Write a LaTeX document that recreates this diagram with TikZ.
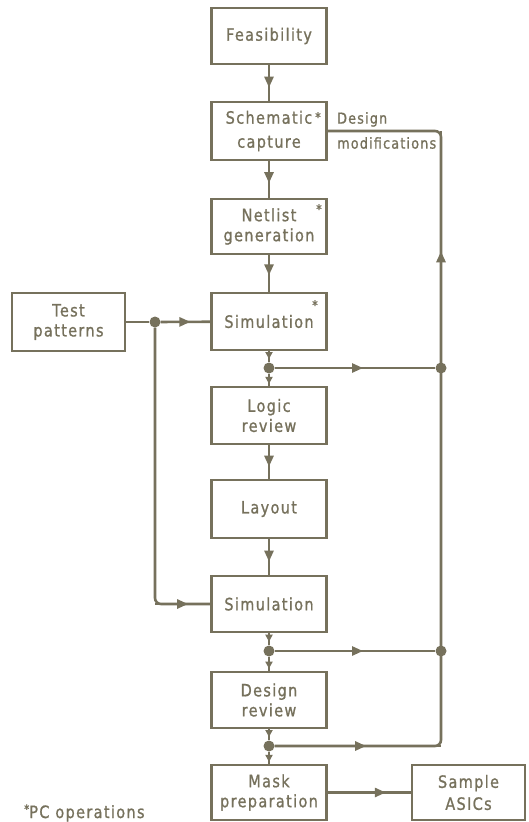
\documentclass[tikz,border=0pt]{standalone}
\usepackage{fontspec}
\usetikzlibrary{arrows.meta,decorations.markings,calc}
\newfontfamily\labfont[LetterSpace=8,FakeStretch=0.85,FakeBold=1]{DejaVu Sans}
\definecolor{ink}{RGB}{118,113,92}
\begin{document}
\begin{tikzpicture}[x=1pt,y=-1pt,
  box/.style={draw=ink, line width=2.6pt, minimum width=115pt, minimum height=56pt,
    inner sep=0pt, align=center, text=ink, font=\labfont\fontsize{17}{20}\selectfont},
  flow/.style={color=ink, line width=2.6pt},
  midarrow/.style={postaction={decorate},decoration={markings,
    mark=at position #1 with {\arrow{Triangle[length=11pt,width=9pt]}}}},
  smallarrow/.style={postaction={decorate},decoration={markings,
    mark=at position #1 with {\arrow{Triangle[length=7pt,width=7pt]}}}},
  jdot/.style={circle, fill=ink, inner sep=0pt, minimum size=11pt},
  astr/.style={text=ink, inner sep=0pt, font=\fontsize{13}{13}\selectfont\labfont},
  note/.style={text=ink, inner sep=0pt, align=left}]
\useasboundingbox (0,0) rectangle (528,822);
\fill[white] (0,0) rectangle (528,822);

% boxes
\node[box] (feas) at (269,36) {Feasibility};
\node[box, minimum height=58pt, font=\labfont\fontsize{17}{24}\selectfont] (sch) at (269,131) {Schematic\\capture};
\node[box, minimum height=55pt] (net) at (269,226.5) {Netlist\\generation};
\node[box, minimum width=113pt, minimum height=58pt] (test) at (68.5,322) {Test\\patterns};
\node[box, minimum height=57pt] (sim1) at (269,321.5) {Simulation};
\node[box, minimum height=57pt] (logic) at (269,415.5) {Logic\\review};
\node[box, minimum height=58pt] (layout) at (269,509) {Layout};
\node[box] (sim2) at (269,604) {Simulation};
\node[box] (design) at (269,700) {Design\\review};
\node[box, minimum height=55pt] (mask) at (269,792.5) {Mask\\preparation};
\node[box, minimum width=113pt, minimum height=55pt, font=\labfont\fontsize{17}{22}\selectfont] (sample) at (468.5,792.5) {Sample\\ASICs};

% asterisks
\node[astr] (a1) at (318,117) {*};
\node[astr] (a2) at (319,209) {*};
\node[astr] (a3) at (315,305) {*};

% junction dots
\node[jdot] (j0) at (155,322) {};
\node[jdot] (j1) at (269,368) {};
\node[jdot] (jr1) at (441,368) {};
\node[jdot] (j2) at (269,651) {};
\node[jdot] (jr2) at (441,651) {};
\node[jdot] (j3) at (269,746) {};
\coordinate (rc) at (441,746);

% main chain
\draw[flow, midarrow=0.63] (feas) -- (sch);
\draw[flow, midarrow=0.6] (sch) -- (net);
\draw[flow, midarrow=0.55] (net) -- (sim1);
\draw[flow] (test) -- (j0);
\draw[flow, midarrow=0.6] (j0) -- (sim1);
\draw[flow, rounded corners=6pt] (j0) |- (sim2);
\draw[flow, midarrow=0.6] (j0 |- sim2) -- (sim2);

\draw[flow, smallarrow=0.7] (sim1) -- (j1);
\draw[flow, smallarrow=0.85] (j1) -- (logic);
\draw[flow, midarrow=0.55] (j1) -- (jr1);
\draw[flow, midarrow=0.64] (logic) -- (layout);
\draw[flow, midarrow=0.63] (layout) -- (sim2);
\draw[flow, smallarrow=0.7] (sim2) -- (j2);
\draw[flow, smallarrow=0.85] (j2) -- (design);
\draw[flow, midarrow=0.55] (j2) -- (jr2);
\draw[flow, smallarrow=0.7] (design) -- (j3);
\draw[flow, smallarrow=0.85] (j3) -- (mask);
\draw[flow, midarrow=0.7] (mask) -- (sample);

% feedback line
\draw[flow, rounded corners=6pt] (j3) -- (rc) -- (rc |- sch.east) -- (sch.east);
\draw[flow, midarrow=0.55] (j3) -- (rc);
\draw[flow, midarrow=0.48] (jr1) -- (jr1 |- sch.east);

% labels
\node[note, anchor=north west, font=\labfont\fontsize{15}{25}\selectfont] (dm) at (337,112) {Design\\modifications};
\node[note, anchor=west, font=\labfont\fontsize{17}{20}\selectfont] (pc) at (24,813) {\raisebox{0.5ex}{\fontsize{12}{12}\selectfont *}PC operations};
\end{tikzpicture}
\end{document}
